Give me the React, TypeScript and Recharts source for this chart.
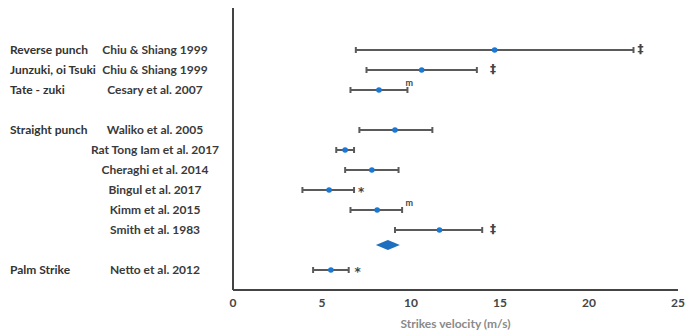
import React from 'react'
import { ScatterChart, Scatter, XAxis, YAxis, ErrorBar, Label } from 'recharts'

// row index on the y axis (3 and 10 are empty gaps)
const rows = [0, 1, 2, 4, 5, 6, 7, 8, 9, 11]
const strikeTypes = ['Reverse punch', 'Junzuki, oi Tsuki', 'Tate - zuki', 'Straight punch', '', '', '', '', '', 'Palm Strike']
const studies = [
  'Chiu & Shiang 1999',
  'Chiu & Shiang 1999',
  'Cesary et al. 2007',
  'Waliko et al. 2005',
  'Rat Tong Iam et al. 2017',
  'Cheraghi et al. 2014',
  'Bingul et al. 2017',
  'Kimm et al. 2015',
  'Smith et al. 1983',
  'Netto et al. 2012',
]
const means = [14.7, 10.6, 8.2, 9.1, 6.3, 7.8, 5.4, 8.1, 11.6, 5.5]
const lows = [6.9, 7.5, 6.6, 7.1, 5.8, 6.3, 3.9, 6.6, 9.1, 4.5]
const highs = [22.5, 13.7, 9.8, 11.2, 6.8, 9.3, 6.8, 9.5, 14.0, 6.5]
const marks = ['‡', '‡', 'm', '', '', '', '*', 'm', '‡', '*']
const markX = [22.9, 14.6, 9.9, 0, 0, 0, 7.2, 9.9, 14.6, 7.0]

const pooledMean = 8.7
const pooledRow = 9.75

const xTicks = [0, 5, 10, 15, 20, 25]

const FONT = 'Lato, "Open Sans", sans-serif'

const points = rows.map((r, i) => ({
  y: r,
  x: means[i],
  err: [means[i] - lows[i], highs[i] - means[i]],
  type: strikeTypes[i],
  study: studies[i],
}))

const markPoints = rows
  .map((r, i) => ({ y: r, x: markX[i], sym: marks[i] }))
  .filter((m) => m.sym !== '')

const pooled = [{ y: pooledRow, x: pooledMean }]

const RowTick = (props: any) => {
  const { y, payload } = props
  const idx = rows.indexOf(payload.value)
  if (idx < 0) return null
  return (
    <g>
      <text x={10} y={y} dy="0.35em" textAnchor="start" fontSize={12} fontWeight={700} fill="#333" fontFamily={FONT}>
        {strikeTypes[idx]}
      </text>
      <text x={155} y={y} dy="0.35em" textAnchor="middle" fontSize={12} fontWeight={700} fill="#3a3a3a" fontFamily={FONT}>
        {studies[idx]}
      </text>
    </g>
  )
}

const MeanDot = (props: any) => {
  const { cx, cy } = props
  return <circle cx={cx} cy={cy} r={2.8} fill="#1a78d2" />
}

const Diamond = (props: any) => {
  const { cx, cy } = props
  const w = 12
  const h = 5
  return <polygon points={`${cx - w},${cy} ${cx},${cy - h} ${cx + w},${cy} ${cx},${cy + h}`} fill="#1f6fc0" />
}

const Marker = (props: any) => {
  const { cx, cy, payload } = props
  const small = payload.sym === 'm'
  const star = payload.sym === '*'
  return (
    <text
      x={cx}
      y={small ? cy - 7 : star ? cy + 2 : cy - 1}
      dy="0.35em"
      textAnchor="middle"
      fontSize={small ? 9 : 12}
      fontWeight={700}
      fill="#444"
      fontFamily={small ? FONT : '"DejaVu Sans", sans-serif'}
    >
      {payload.sym}
    </text>
  )
}

const App: React.FC = () => {
  return (
    <div style={{ position: 'absolute', left: 0, top: 0, width: 685, height: 336, background: '#fff' }}>
      <ScatterChart width={685} height={336} margin={{ top: 8, right: 7, bottom: 6, left: 0 }}>
        <XAxis
          type="number"
          dataKey="x"
          domain={[0, 25]}
          ticks={xTicks}
          tickLine={false}
          axisLine={{ stroke: '#444', strokeWidth: 2 }}
          tick={{ fontSize: 12, fontWeight: 700, fill: '#444', fontFamily: FONT }}
          height={40}
        >
          <Label
            value="Strikes velocity  (m/s)"
            position="insideBottom"
            offset={2}
            style={{ fontSize: 12, fontWeight: 700, fill: '#8a8a8a', fontFamily: FONT }}
          />
        </XAxis>
        <YAxis
          type="number"
          dataKey="y"
          domain={[-2.1, 12]}
          reversed
          ticks={rows}
          interval={0}
          tickLine={false}
          axisLine={{ stroke: '#444', strokeWidth: 2 }}
          tick={<RowTick />}
          width={233}
        />
        <Scatter data={points} shape={<MeanDot />} isAnimationActive={false}>
          <ErrorBar dataKey="err" direction="x" width={3} stroke="#5a5a5a" strokeWidth={2} />
        </Scatter>
        <Scatter data={pooled} shape={<Diamond />} isAnimationActive={false} />
        <Scatter data={markPoints} shape={<Marker />} isAnimationActive={false} />
      </ScatterChart>
    </div>
  )
}

export default App
